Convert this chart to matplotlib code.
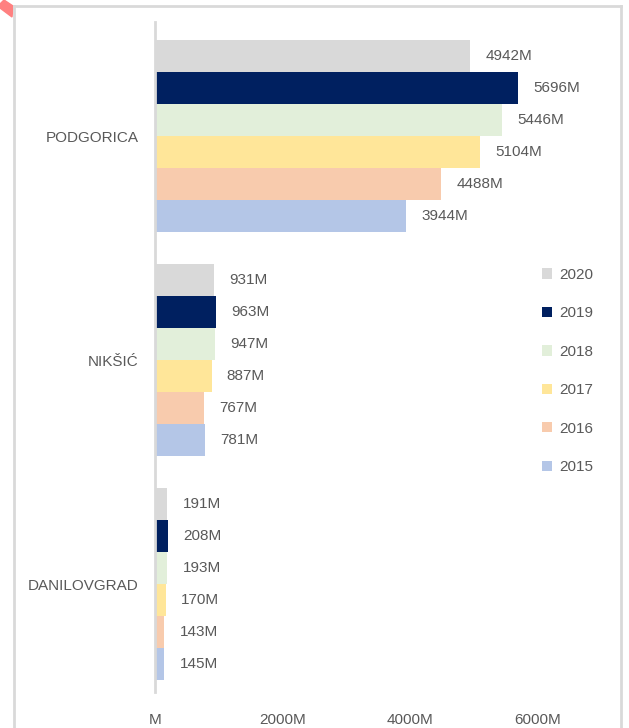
import numpy as np
import matplotlib.pyplot as plt
from matplotlib.lines import Line2D
from matplotlib.patches import Polygon

cities = ["PODGORICA", "NIKŠIĆ", "DANILOVGRAD"]
years = ["2020", "2019", "2018", "2017", "2016", "2015"]
colors = ["#D9D9D9", "#002060", "#E2EFDA", "#FFE699", "#F8CBAD", "#B4C6E7"]
values = {
    "2020": [4942, 931, 191],
    "2019": [5696, 963, 208],
    "2018": [5446, 947, 193],
    "2017": [5104, 887, 170],
    "2016": [4488, 767, 143],
    "2015": [3944, 781, 145],
}
xticks = [0, 2000, 4000, 6000]

plt.rcParams['font.family'] = ['Liberation Sans', 'DejaVu Sans']
txt = "#595959"
fs = 11

fig = plt.figure(figsize=(6.29, 7.28), dpi=100)
ax = fig.add_axes([155/629, 1 - 696/728, 446/629, 672/728])

y = np.arange(len(cities))
h = 0.143
for i, yr in enumerate(years):
    off = (i - 2.5) * h
    bars = ax.barh(y + off, values[yr], height=h, color=colors[i], label=yr)
    for b, v in zip(bars, values[yr]):
        ax.annotate(f"{v}M", (v, b.get_y() + h / 2), xytext=(11, 0),
                    textcoords="offset points", va="center", ha="left",
                    fontsize=fs, color=txt)

ax.set_ylim(-0.5, 2.5)
ax.invert_yaxis()
ax.set_xlim(0, 7000)
ax.set_yticks(y)
ax.set_yticklabels(cities, fontsize=fs, color=txt)
ax.set_xticks(xticks)
ax.set_xticklabels([f"{t}M" if t else "M" for t in xticks], fontsize=fs, color=txt)
ax.tick_params(axis="both", length=0)
ax.tick_params(axis="x", pad=12)
ax.tick_params(axis="y", pad=12)
for s in ["top", "right", "bottom"]:
    ax.spines[s].set_visible(False)
ax.spines["left"].set_color("#D9D9D9")
ax.spines["left"].set_linewidth(2)
ax.spines["left"].set_bounds(2.482, -0.509)

ax.legend(loc="center left", bbox_to_anchor=(528/629, 1 - 371/728),
          bbox_transform=fig.transFigure, frameon=False, fontsize=fs,
          labelcolor=txt, handlelength=0.65, handleheight=0.65,
          handletextpad=0.5, labelspacing=1.6)

# outer frame
W, H = 629, 728
fr = dict(color="#D9D9D9", lw=2, transform=fig.transFigure)
fig.add_artist(Line2D([14/W, 14/W], [0, 1 - 6/H], **fr))
fig.add_artist(Line2D([14/W, 621/W], [1 - 6/H, 1 - 6/H], **fr))
fig.add_artist(Line2D([621/W, 621/W], [0, 1 - 6/H], **fr))
fig.add_artist(Polygon([[0, 1 - 4/H], [4/W, 1], [13/W, 1 - 6/H], [12/W, 1 - 17/H], [0, 1 - 8/H]],
                       closed=True, color="#FF8080", transform=fig.transFigure))

fig.savefig("out.png", dpi=100)
